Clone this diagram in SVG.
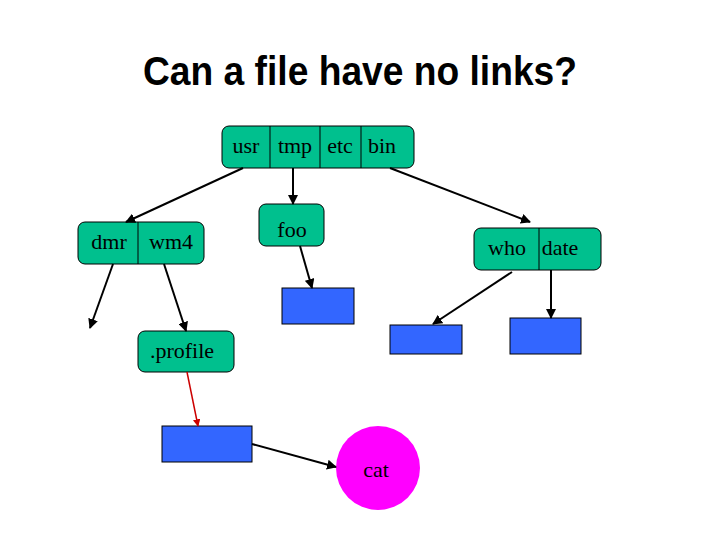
<svg xmlns="http://www.w3.org/2000/svg" width="720" height="540" viewBox="0 0 720 540">
<style>
.n{fill:#00c08e;stroke:#000;stroke-width:1}
.b{fill:#3366ff;stroke:#000;stroke-width:1}
.d{stroke:#000;stroke-width:1}
.t{font-family:"Liberation Serif",serif;font-size:22px;fill:#000;text-anchor:middle}
.c{stroke:#000;stroke-width:2;fill:none;marker-end:url(#a)}
</style>
<defs>
<marker id="a" viewBox="0 0 10 10" refX="9" refY="5" markerWidth="5" markerHeight="5" orient="auto"><path d="M0,0L10,5L0,10z" fill="#000"/></marker>
<marker id="r" viewBox="0 0 10 10" refX="9" refY="5" markerWidth="5" markerHeight="5" orient="auto"><path d="M0,0L10,5L0,10z" fill="#cc0000"/></marker>
</defs>
<rect width="720" height="540" fill="#fff"/>
<text x="360" y="85" font-family="Liberation Sans,sans-serif" font-weight="bold" font-size="40" text-anchor="middle" textLength="434" lengthAdjust="spacingAndGlyphs">Can a file have no links?</text>
<g id="root"><rect class="n" x="222" y="126" width="192" height="42" rx="7"/><line class="d" x1="270" y1="126" x2="270" y2="168"/><line class="d" x1="320" y1="126" x2="320" y2="168"/><line class="d" x1="361" y1="126" x2="361" y2="168"/>
<text class="t" x="246" y="153">usr</text><text class="t" x="295" y="153">tmp</text><text class="t" x="340" y="153">etc</text><text class="t" x="382" y="153">bin</text></g>
<g id="usr"><rect class="n" x="78" y="222" width="126" height="42" rx="7"/><line class="d" x1="138" y1="222" x2="138" y2="264"/><text class="t" x="109" y="249">dmr</text><text class="t" x="171" y="249">wm4</text></g>
<g id="tmp"><rect class="n" x="259" y="204" width="65" height="42" rx="7"/><text class="t" x="292" y="237">foo</text></g>
<g id="bin"><rect class="n" x="474" y="228" width="127" height="42" rx="7"/><line class="d" x1="539" y1="228" x2="539" y2="270"/><text class="t" x="507" y="255">who</text><text class="t" x="560" y="255">date</text></g>
<g id="wm4"><rect class="n" x="138" y="331" width="96" height="41" rx="7"/><text class="t" x="182" y="358">.profile</text></g>
<g id="foofile"><rect class="b" x="282" y="288" width="72" height="36"/></g>
<g id="whofile"><rect class="b" x="390" y="325" width="72" height="29"/></g>
<g id="datefile"><rect class="b" x="510" y="318" width="71" height="36"/></g>
<g id="profilefile"><rect class="b" x="162" y="426" width="90" height="36"/></g>
<g id="cat"><circle cx="378" cy="468" r="42" fill="#ff00ff"/><text class="t" x="376" y="477">cat</text></g>
<g id="connectors">
<line class="c" x1="243" y1="168" x2="126" y2="222"/>
<line class="c" x1="293" y1="168" x2="293" y2="204"/>
<line class="c" x1="390" y1="168" x2="530" y2="222"/>
<line class="c" x1="113" y1="264" x2="90" y2="328"/>
<line class="c" x1="164" y1="264" x2="186" y2="331"/>
<line class="c" x1="300" y1="246" x2="312" y2="288"/>
<line class="c" x1="512" y1="272" x2="433" y2="324"/>
<line class="c" x1="551" y1="270" x2="551" y2="318"/>
<line x1="187" y1="372" x2="198" y2="426" stroke="#cc0000" stroke-width="1.5" marker-end="url(#r)"/>
<line class="c" x1="252" y1="444" x2="336" y2="467"/>
</g>
</svg>
